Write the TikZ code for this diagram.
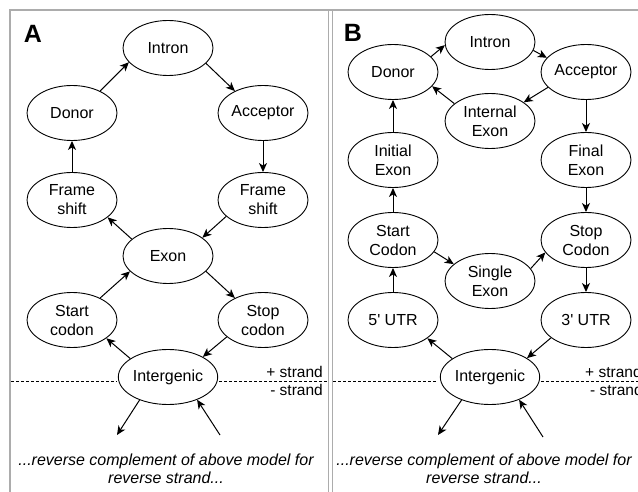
\documentclass[tikz,border=0pt]{standalone}
\usepackage{fontspec}
\newfontfamily\helv{Liberation Sans}
\usetikzlibrary{shapes.geometric,arrows.meta}
\begin{document}
\begin{tikzpicture}[x=1pt,y=-1pt,
  st/.style={ellipse,draw,line width=0.9pt,minimum width=90pt,minimum height=55pt,inner sep=0pt,align=center,font=\helv\fontsize{16}{19}\selectfont},
  ed/.style={-{Stealth[length=9pt,width=8pt,inset=2.5pt]},line width=1pt},
  dl/.style={dash pattern=on 3pt off 2pt,line width=0.6pt},
  frameline/.style={draw=gray!65,line width=1.3pt},
  lab/.style={font=\helv\fontsize{25}{25}\selectfont\bfseries,inner sep=0pt},
  strandlab/.style={font=\helv\fontsize{15.5}{18}\selectfont,inner sep=0pt},
  note/.style={font=\helv\fontsize{16}{18}\selectfont\itshape,align=center,inner sep=0pt}
]
\useasboundingbox (0,0) rectangle (638,492);
% frames
\draw[frameline] (10,492) -- (10,10) -- (638,10);
\draw[frameline] (328.5,10) -- (328.5,492);
\draw[frameline] (332.5,10) -- (332.5,492);

% ---------- Panel A ----------
\node[lab] (labA) at (33,34) {A};
\node[st] (IntronA) at (168,48) {Intron};
\node[st] (DonorA) at (72,113) {Donor};
\node[st] (AcceptorA) at (263,113) {Acceptor};
\node[st] (FSL) at (72,200) {Frame\\shift};
\node[st] (FSR) at (263,200) {Frame\\shift};
\node[st] (ExonA) at (168,256) {Exon};
\node[st] (StartA) at (72,320) {Start\\codon};
\node[st] (StopA) at (263,320) {Stop\\codon};
\node[st] (IGA) at (168,377) {Intergenic};

\draw[ed] (DonorA.38) -- (IntronA.200);
\draw[ed] (IntronA.-22) -- (AcceptorA.142);
\draw[ed] (AcceptorA.south) -- (FSR.north);
\draw[ed] (FSR.204) -- (ExonA.28);
\draw[ed] (ExonA.155) -- (FSL.-26);
\draw[ed] (FSL.north) -- (DonorA.south);
\draw[ed] (ExonA.-22) -- (StopA.142);
\draw[ed] (StopA.205) -- (IGA.30);
\draw[ed] (IGA.154) -- (StartA.-28);
\draw[ed] (StartA.38) -- (ExonA.202);

\coordinate (outA) at (117,435);
\coordinate (inA) at (220,435);
\draw[ed] (IGA.219) -- (outA);
\draw[ed] (inA) -- (IGA.322);

\coordinate (dA1) at (11,381);
\coordinate (dA2) at (117,381);
\coordinate (dA3) at (219,381);
\coordinate (dA4) at (328,381);
\draw[dl] (dA1) -- (dA2);
\draw[dl] (dA3) -- (dA4);
\node[strandlab,anchor=base east] (plusA) at (323,377) {+ strand};
\node[strandlab,anchor=base east] (minusA) at (323,395) {- strand};

\node[note] (noteA) at (166,469) {...reverse complement of above model for\\reverse strand...};

% ---------- Panel B ----------
\node[lab] (labB) at (353,33) {B};
\node[st] (IntronB) at (490,42) {Intron};
\node[st] (DonorB) at (393,72) {Donor};
\node[st] (AcceptorB) at (586,72) {Acceptor};
\node[st] (IntExon) at (490,121) {Internal\\Exon};
\node[st] (InitExon) at (393,160) {Initial\\Exon};
\node[st] (FinalExon) at (586,160) {Final\\Exon};
\node[st] (StartB) at (393,240) {Start\\Codon};
\node[st] (StopB) at (586,240) {Stop\\Codon};
\node[st] (Single) at (490,281) {Single\\Exon};
\node[st] (UTR5) at (393,320) {5' UTR};
\node[st] (UTR3) at (586,320) {3' UTR};
\node[st] (IGB) at (490,377) {Intergenic};

\draw[ed] (DonorB.22) -- (IntronB.184);
\draw[ed] (IntronB.-11) -- (AcceptorB.160);
\draw[ed] (AcceptorB.202) -- (IntExon.29);
\draw[ed] (IntExon.154) -- (DonorB.-20);
\draw[ed] (AcceptorB.south) -- (FinalExon.north);
\draw[ed] (FinalExon.south) -- (StopB.north);
\draw[ed] (InitExon.north) -- (DonorB.south);
\draw[ed] (StartB.north) -- (InitExon.south);
\draw[ed] (StartB.-16) -- (Single.155);
\draw[ed] (Single.17) -- (StopB.197);
\draw[ed] (StopB.south) -- (UTR3.north);
\draw[ed] (UTR3.207) -- (IGB.27);
\draw[ed] (IGB.154) -- (UTR5.-28);
\draw[ed] (UTR5.north) -- (StartB.south);

\coordinate (outB) at (438,435);
\coordinate (inB) at (543,437);
\draw[ed] (IGB.219) -- (outB);
\draw[ed] (inB) -- (IGB.322);

\coordinate (dB1) at (333,381);
\coordinate (dB2) at (437,381);
\coordinate (dB3) at (541,381);
\coordinate (dB4) at (638,381);
\draw[dl] (dB1) -- (dB2);
\draw[dl] (dB3) -- (dB4);
\node[strandlab,anchor=base west] (plusB) at (585,377) {+ strand};
\node[strandlab,anchor=base west] (minusB) at (590,395) {- strand};

\node[note] (noteB) at (484,469) {...reverse complement of above model for\\reverse strand...};
\end{tikzpicture}
\end{document}
